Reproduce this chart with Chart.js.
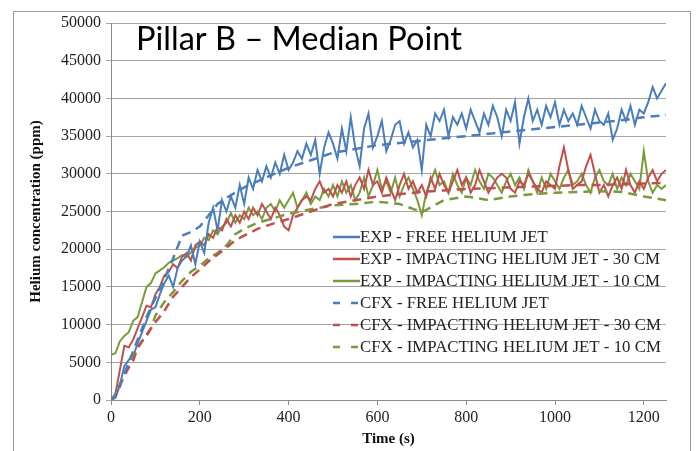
<!DOCTYPE html>
<html><head><meta charset="utf-8">
<script src="https://cdn.jsdelivr.net/npm/chart.js@4.4.0/dist/chart.umd.min.js"></script>
<style>html,body{margin:0;padding:0;background:#fff;}#wrap{width:696px;height:451px;position:relative;}</style>
</head><body><div id="wrap"><canvas id="c"></canvas></div>
<script>
const chartTitle = 'Pillar B – Median Point';
const xTitle = 'Time (s)';
const yTitle = 'Helium concentration (ppm)';
const seriesLabels = ['EXP - FREE HELIUM JET','EXP - IMPACTING HELIUM JET - 30 CM','EXP - IMPACTING HELIUM JET - 10 CM','CFX - FREE HELIUM JET','CFX - IMPACTING HELIUM JET - 30 CM','CFX - IMPACTING HELIUM JET - 10 CM'];

const timeExp = [0,10,20,30,40,50,60,70,80,90,
100,110,120,130,140,150,160,170,180,190,
200,210,220,230,240,250,260,270,280,290,
300,310,320,330,340,350,360,370,380,390,
400,410,420,430,440,450,460,470,480,490,
500,510,520,530,540,550,560,570,580,590,
600,610,620,630,640,650,660,670,680,690,
700,710,720,730,740,750,760,770,780,790,
800,810,820,830,840,850,860,870,880,890,
900,910,920,930,940,950,960,970,980,990,
1000,1010,1020,1030,1040,1050,1060,1070,1080,1090,
1100,1110,1120,1130,1140,1150,1160,1170,1180,1190,
1200,1210,1220,1230,1240,1250];

const expFree = [0,300,2000,4500,5300,5800,7500,9000,10500,12000,
12300,14000,15500,16500,15000,17500,18500,19000,20500,18000,
21000,19500,23500,25500,22500,26500,25000,27000,25500,28500,
26000,29500,28000,30500,29000,31000,29500,31500,30000,32500,
30500,31500,33000,32000,34000,32500,34500,30000,33500,35500,
34000,32000,36000,33000,37500,33500,31000,36000,38000,33500,
35000,37000,33000,34500,36500,37000,34000,35500,33500,34500,
30500,36500,35000,38000,37000,38500,35000,37500,36500,38000,
36000,38500,37000,35500,38000,36500,39000,37500,35000,38500,
37000,39500,34000,37500,40000,37000,38500,36500,39000,37500,
39500,36500,38500,37000,38000,36500,39000,37500,36000,38500,
37000,36500,38000,34500,36000,38500,37000,39000,36500,38500,
38000,39500,41500,40000,41000,42000];

const exp30 = [0,800,4000,7200,7000,8000,9500,11000,12500,12300,
14000,15000,16500,17000,18000,17500,19000,19500,18500,20500,
21000,20500,22000,21500,23000,22500,24000,23000,24500,23500,
25000,24000,25500,24500,26000,25000,24000,25500,24500,23000,
22500,24500,25500,26500,27000,26500,28000,29000,27500,28000,
27000,28500,27500,29000,27000,28500,29500,28000,30500,28500,
29000,27500,29500,28000,26500,28500,30000,28000,29000,27500,
28500,27000,29500,28000,30000,28500,27500,29000,30500,28500,
29500,27500,28500,30500,29000,27500,28500,29500,30000,29500,
28000,27500,29000,28500,30000,29000,28000,27500,29000,28500,
28000,31000,33500,30500,28000,28500,29000,31000,32500,30000,
27500,28500,27000,28500,29500,28000,30500,28500,27500,29000,
28000,29500,30500,29000,30000,30500];

const exp10 = [6000,6200,7800,8500,9000,10500,11000,13000,15000,15500,
16800,17200,17600,18200,18500,18800,19200,19000,19600,20200,
20500,21500,21200,22500,22000,23000,23500,24800,23500,24500,
24000,25500,24500,25000,24000,25500,26000,25000,26500,25500,
26500,27500,25500,26500,27500,26000,27000,26500,28000,27000,
28500,27000,29000,27500,28500,26500,27500,29500,27000,28500,
30500,28000,29000,27500,29500,27000,28500,29500,28000,26500,
24500,27500,29000,30500,28500,29000,27500,30000,28500,27500,
29500,28500,30500,29000,28000,30000,29500,28500,27500,29000,
30000,28500,29500,28000,30500,29000,27500,29500,28000,30000,
29000,28000,29500,30500,28500,29000,30000,28500,27500,29500,
30500,29000,28500,30000,28000,29500,28500,30000,29000,28000,
33000,29000,27500,28500,28000,28500];

const timeCfx = [0,10,20,30,40,50,60,70,80,90,100,120,140,160,180,200,220,240,260,280,300,330,360,400,450,500,550,600,650,700,750,800,850,900,950,1000,1050,1100,1150,1200,1250];
const cfxFree = [0,500,1800,3500,5000,6500,8000,9500,11000,12300,13500,16000,18800,21800,22300,23000,24500,26000,26800,27500,28200,29000,29800,30800,31800,32800,33300,33800,34100,34400,34700,35000,35300,35600,35900,36200,36500,36800,37100,37500,37800];
const cfx30 = [0,500,2000,3200,4300,5200,7000,7800,8500,9500,10300,11800,13700,15000,16300,17300,18400,19300,20200,21200,21800,22700,23300,24000,25000,26000,26500,27000,27300,27600,27800,28000,28100,28200,28300,28400,28500,28500,28600,28700,28800];
const cfx10 = [0,800,2000,3300,4800,5800,6800,7800,8700,9500,11200,13000,14300,15800,17000,17800,18800,19500,20500,22000,22700,23500,24000,24700,25300,25800,26000,26300,26000,24900,26500,27000,26500,27000,27300,27500,27600,27700,27600,27000,26500];

const COL_BLUE = '#4a7ebb', COL_RED = '#c0504d', COL_GREEN = '#7a9a3c';

function pts(xs, ys){ return xs.map((x,i)=>({x:x,y:ys[i]})); }

const datasets = [
  {label:seriesLabels[3], data:pts(timeCfx,cfxFree), borderColor:COL_BLUE, borderDash:[9,6], borderWidth:2.5},
  {label:seriesLabels[4], data:pts(timeCfx,cfx30), borderColor:COL_RED, borderDash:[9,6], borderWidth:2.5},
  {label:seriesLabels[5], data:pts(timeCfx,cfx10), borderColor:COL_GREEN, borderDash:[9,6], borderWidth:2.5},
  {label:seriesLabels[0], data:pts(timeExp,expFree), borderColor:COL_BLUE, borderWidth:2},
  {label:seriesLabels[1], data:pts(timeExp,exp30), borderColor:COL_RED, borderWidth:2},
  {label:seriesLabels[2], data:pts(timeExp,exp10), borderColor:COL_GREEN, borderWidth:2}
];
datasets.forEach(d=>{d.pointRadius=0;d.tension=0;d.fill=false;d.backgroundColor=d.borderColor;});
const legendOrder = [3,4,5,0,1,2];

const decorPlugin = {
  id:'decor',
  beforeDraw(chart){
    const ctx = chart.ctx;
    ctx.save();
    ctx.strokeStyle = '#9a9a9a'; ctx.lineWidth = 1;
    ctx.strokeRect(13.5, 11.5, 677, 460);
    ctx.restore();
  },
  afterDraw(chart){
    const ctx = chart.ctx;
    ctx.save();
    let fs = 30;
    ctx.font = fs + 'px Lato';
    const w = ctx.measureText(chartTitle).width;
    fs = fs * 326 / w;
    ctx.font = fs + 'px Lato';
    ctx.fillStyle = '#000';
    ctx.textBaseline = 'alphabetic';
    ctx.textAlign = 'left';
    ctx.fillText(chartTitle, 136, 50);
    let lf = 16;
    ctx.font = lf + 'px "Liberation Serif"';
    const lw = ctx.measureText(seriesLabels[1]).width;
    lf = lf * 300 / lw;
    ctx.font = lf + 'px "Liberation Serif"';
    ctx.textBaseline = 'middle';
    legendOrder.forEach((di,i)=>{
      const ds = chart.data.datasets[di];
      const y = 237 + i*22;
      ctx.strokeStyle = ds.borderColor;
      ctx.lineWidth = 2.5;
      ctx.setLineDash(ds.borderDash ? [7,11] : []);
      ctx.beginPath(); ctx.moveTo(333, y); ctx.lineTo(360, y); ctx.stroke();
      ctx.setLineDash([]);
      ctx.fillStyle = '#222';
      ctx.fillText(ds.label, 360, y+1);
    });
    ctx.restore();
  }
};

new Chart(document.getElementById('c'), {
  type:'line',
  data:{datasets:datasets},
  options:{
    responsive:true, maintainAspectRatio:false, animation:false,
    layout:{padding:{left:22,right:30,top:23,bottom:3}},
    plugins:{legend:{display:false}, title:{display:false}, tooltip:{enabled:false}},
    scales:{
      x:{type:'linear', min:0, max:1250,
        ticks:{stepSize:200, includeBounds:false, color:'#222', padding:3, font:{family:'Liberation Serif', size:16}, callback:v=>String(v), maxRotation:0},
        grid:{drawOnChartArea:false, tickLength:5, color:'#8c8c8c'},
        border:{color:'#8c8c8c'},
        title:{display:true, text:xTitle, color:'#111', font:{family:'Liberation Serif', size:15, weight:'bold'}, padding:{top:0,bottom:0}},
        afterFit(s){ s.height = 48; }
      },
      y:{min:0, max:50000,
        ticks:{stepSize:5000, color:'#222', padding:5, font:{family:'Liberation Serif', size:16}, callback:v=>String(v)},
        grid:{color:'#a6a6a6', tickLength:5},
        border:{color:'#8c8c8c'},
        title:{display:true, text:yTitle, color:'#111', font:{family:'Liberation Serif', size:15, weight:'bold'}, padding:{top:5,bottom:0}},
        afterFit(s){ s.width = 89; }
      }
    }
  },
  plugins:[decorPlugin]
});
</script></body></html>
